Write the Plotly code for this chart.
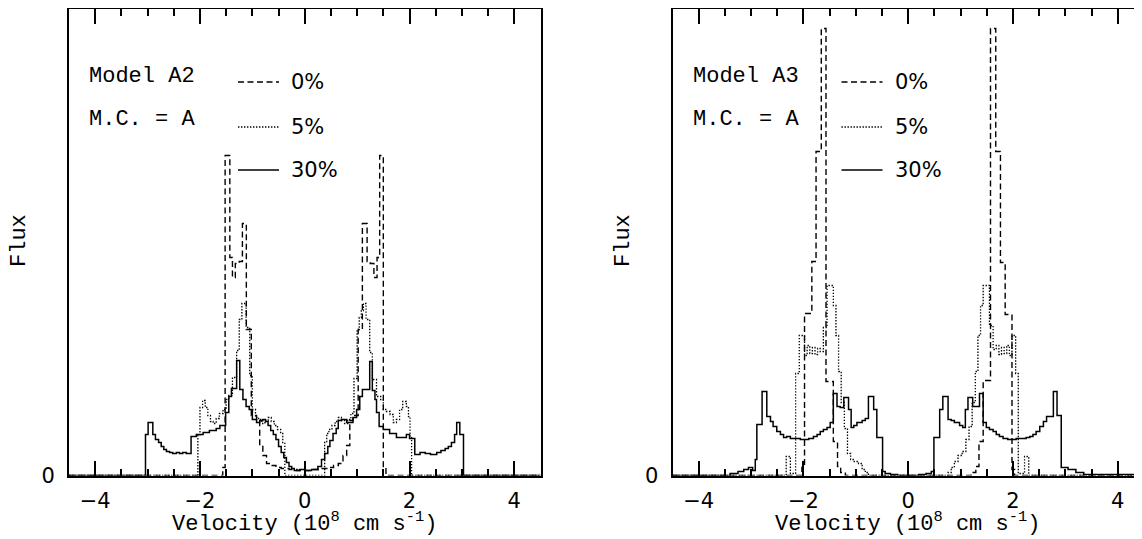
import plotly.graph_objects as go

# ---------------- data (velocity bin edges in 1e8 cm/s, flux in arbitrary units) -------------
# Model A2, 0% (dashed)
a2_0_edges = [-4.5, -1.565, -1.52, -1.43, -1.38, -1.325, -1.25, -1.19, -1.115, -1.02, -0.92, -0.86,
              -0.80, -0.73, -0.64, -0.55, -0.45, -0.30, -0.15, 0.0, 0.15, 0.30, 0.45, 0.55, 0.64,
              0.73, 0.80, 0.86, 0.92, 1.02, 1.10, 1.19, 1.25, 1.32, 1.38, 1.43, 1.50, 1.55, 4.5]
a2_0_flux = [0, 8, 320, 218, 198, 212, 214, 252, 146, 60, 55, 30, 20, 12, 10, 8, 7, 6, 5,
             5, 6, 7, 8, 10, 12, 20, 30, 55, 60, 146, 252, 214, 212, 198, 218, 320, 8, 0]

# Model A2, 5% (dotted)
a2_5_edges = [-4.5, -2.04, -2.00, -1.95, -1.90, -1.85, -1.80, -1.75, -1.69, -1.63, -1.56, -1.50,
              -1.45, -1.38, -1.30, -1.25, -1.20, -1.12, -1.05, -1.00, -0.94, -0.88, -0.82, -0.76,
              -0.70, -0.64, -0.58, -0.52, -0.46, -0.42, -0.38,
              0.38, 0.42, 0.46, 0.52, 0.58, 0.64, 0.70, 0.76, 0.82, 0.88, 0.94, 1.00, 1.04, 1.08,
              1.12, 1.17, 1.24, 1.29, 1.37, 1.45, 1.50, 1.56, 1.63, 1.69, 1.75, 1.81, 1.87, 1.94,
              1.98, 2.01, 2.04, 4.5]
a2_5_flux = [0, 40, 68, 75, 68, 60, 54, 52, 57, 62, 66, 76, 80, 98, 125, 156, 172, 148, 100,
             66, 58, 56, 52, 55, 58, 54, 50, 46, 42, 33,
             0,
             33, 42, 46, 50, 54, 58, 55, 52, 56, 62, 97, 146, 158, 165, 172, 156, 123, 96, 79,
             76, 66, 64, 61, 53, 56, 66, 74, 69, 59, 39, 0]

# Model A2, 30% (solid)
a2_30_edges = [-4.5, -3.04, -2.99, -2.90, -2.85, -2.79, -2.74, -2.69, -2.64, -2.58, -2.52, -2.45,
               -2.39, -2.33, -2.26, -2.17, -2.07, -1.94, -1.82, -1.69, -1.62, -1.51, -1.45, -1.40,
               -1.30, -1.24, -1.18, -1.12, -1.06, -1.00, -0.92, -0.86, -0.80, -0.75, -0.70, -0.65,
               -0.60, -0.55, -0.50, -0.45, -0.40, -0.35, -0.30, -0.25, -0.20, -0.10, 0.0,
               0.13, 0.25, 0.32, 0.38, 0.44, 0.48, 0.54, 0.60, 0.64, 0.70, 0.80, 0.92, 0.99, 1.05,
               1.10, 1.24, 1.29, 1.34, 1.37, 1.42, 1.50, 1.62, 1.75, 1.94, 2.00, 2.10, 2.20, 2.30,
               2.40, 2.52, 2.60, 2.68, 2.74, 2.80, 2.86, 2.90, 2.96, 3.03, 4.5]
a2_30_flux = [0, 41, 53, 41, 36, 33, 29, 26, 24, 23, 22, 23, 22, 23, 22, 39, 41, 43, 45, 47, 50,
              63, 79, 87, 115, 86, 76, 69, 66, 56, 53, 55, 56, 54, 50, 45, 41, 36, 29, 23, 18,
              13, 9, 7, 5, 6,
              5, 6, 9, 16, 22, 29, 35, 42, 47, 55, 56, 53, 58, 66, 79, 86, 114, 85, 76, 63, 49,
              46, 42, 38, 41, 37, 21, 23, 22, 21, 23, 25, 27, 29, 33, 41, 53, 41, 0]

# Model A3, 0% (dashed)
a3_0_edges = [-4.5, -2.03, -1.98, -1.84, -1.76, -1.66, -1.57, -1.43, -1.35, -1.29, -1.20,
              1.20, 1.29, 1.35, 1.43, 1.57, 1.67, 1.76, 1.85, 1.98, 2.03, 4.5]
a3_0_flux = [0, 8, 162, 214, 324, 447, 94, 34, 9, 3, 0,
             3, 9, 34, 95, 447, 324, 213, 161, 6, 0]

# Model A3, 5% (dotted)
a3_5_edges = [-4.5, -2.33, -2.25, -2.15, -2.08, -1.98, -1.93, -1.88, -1.83, -1.78, -1.73, -1.68,
              -1.62, -1.55, -1.43, -1.38, -1.33, -1.28, -1.22, -1.16, -1.10, -1.03, -0.95, -0.88,
              -0.82, -0.76,
              0.76, 0.82, 0.88, 0.95, 1.03, 1.10, 1.16, 1.22, 1.28, 1.33, 1.38, 1.43, 1.55, 1.62,
              1.68, 1.73, 1.78, 1.83, 1.88, 1.93, 1.98, 2.05, 2.10, 2.22, 2.30, 4.5]
a3_5_flux = [0, 19, 2, 102, 140, 120, 130, 122, 128, 121, 127, 124, 148, 190, 170, 140, 104, 73,
             47, 22, 16, 14, 12, 6, 3,
             0,
             3, 8, 14, 20, 24, 36, 49, 73, 104, 140, 170, 190, 150, 126, 130, 121, 128, 122,
             130, 120, 140, 102, 2, 19, 0]

# Model A3, 30% (solid)
a3_30_edges = [-4.5, -3.40, -3.25, -3.14, -3.05, -2.97, -2.92, -2.89, -2.79, -2.70, -2.63, -2.58,
               -2.51, -2.44, -2.38, -2.32, -2.25, -2.06, -1.90, -1.81, -1.74, -1.68, -1.62, -1.55,
               -1.49, -1.43, -1.36, -1.30, -1.23, -1.14, -1.09, -1.04, -0.98, -0.88, -0.82, -0.76,
               -0.66, -0.60, -0.49, -0.44, -0.34, -0.20,
               0.20, 0.34, 0.44, 0.49, 0.60, 0.66, 0.76, 0.82, 0.88, 0.98, 1.04, 1.09, 1.14, 1.23,
               1.30, 1.36, 1.43, 1.49, 1.55, 1.62, 1.68, 1.74, 1.81, 1.90, 2.06, 2.25, 2.32, 2.38,
               2.44, 2.51, 2.58, 2.64, 2.77, 2.84, 2.92, 3.05, 3.20, 3.35, 4.5]
a3_30_flux = [0, 2, 4, 6, 8, 5, 16, 51, 84, 59, 54, 49, 44, 41, 38, 39, 37, 36, 37, 39, 41, 44,
              46, 48, 53, 82, 69, 68, 78, 66, 48, 50, 53, 55, 57, 79, 66, 38, 4, 2, 1,
              0,
              1, 2, 4, 38, 66, 79, 56, 55, 53, 50, 48, 66, 78, 69, 69, 82, 53, 48, 46, 44, 41, 39,
              37, 36, 37, 38, 39, 41, 44, 49, 54, 59, 84, 60, 8, 6, 3, 1, 0]

series_labels = ["0%", "5%", "30%"]
tick_vals = [-4, -2, 0, 2, 4]

# ---------------- styling ----------------
# The page body has an 8px margin, so screen positions are converted to the figure's
# own origin.  The figure is a little wider than the window so that the right panel's
# frame edge falls just outside the visible area, as in the reference.
OFF = 8
W, H = 1138, 539 - OFF
ROMAN = "Liberation Mono"
SANS = "DejaVu Sans"
dash_styles = {"0%": "6px,3.5px", "5%": "1.4px,1.6px", "30%": "solid"}
line_widths = {"0%": 1.4, "5%": 1.3, "30%": 1.5}


def steps(edges, flux):
    return list(edges), list(flux) + [flux[-1]]


def px(x):
    return (x - OFF) / W


def py(y):
    return 1 - (y - OFF) / H


fig = go.Figure()
panels = [
    ("x", "y", [(a2_0_edges, a2_0_flux), (a2_5_edges, a2_5_flux), (a2_30_edges, a2_30_flux)]),
    ("x2", "y2", [(a3_0_edges, a3_0_flux), (a3_5_edges, a3_5_flux), (a3_30_edges, a3_30_flux)]),
]
for xa, ya, sers in panels:
    for lab, (e, f) in zip(series_labels, sers):
        xs, ys = steps(e, f)
        fig.add_trace(go.Scatter(
            x=xs, y=ys, mode="lines", line_shape="hv", xaxis=xa, yaxis=ya,
            line=dict(color="black", width=line_widths[lab], dash=dash_styles[lab]),
            showlegend=False, hoverinfo="skip"))

ydom = [py(475.5), 1 - 1 / H]
yrange_top = 475.5 - (OFF + 1)
xdom1 = [px(69), px(540.5)]
xdom2 = [px(672.5), px(1144)]

xcommon = dict(range=[-4.5, 4.5], showline=True, linewidth=2, linecolor="black", mirror="allticks",
               ticks="inside", ticklen=15, tickwidth=1.5, tickcolor="black",
               tickvals=tick_vals, showgrid=False, zeroline=False, automargin=False,
               tickfont=dict(family=SANS, size=21, color="black"), ticklabelstandoff=5,
               minor=dict(dtick=0.5, tick0=0, ticks="inside", ticklen=7, tickwidth=1.5,
                          tickcolor="black", showgrid=False))
ycommon = dict(range=[0, yrange_top], showline=True, linewidth=2, linecolor="black", mirror=True,
               ticks="", tickvals=[0], ticktext=["0"], showgrid=False, zeroline=False,
               automargin=False, tickfont=dict(family=SANS, size=21, color="black"),
               ticklabelstandoff=8, domain=ydom)

fig.update_layout(
    width=W, height=H, margin=dict(l=0, r=0, t=0, b=0),
    paper_bgcolor="white", plot_bgcolor="white", showlegend=False,
    xaxis=dict(domain=xdom1, anchor="y", **xcommon),
    yaxis=dict(anchor="x", **ycommon),
    xaxis2=dict(domain=xdom2, anchor="y2", **xcommon),
    yaxis2=dict(anchor="x2", **ycommon),
)

# ---------------- text and legend keys ----------------
panel_text = [
    dict(x0=69, model="Model A2", flux_x=19, vel_cx=304),
    dict(x0=672.5, model="Model A3", flux_x=623, vel_cx=907),
]
legend_rows = [("0%", 82), ("5%", 127), ("30%", 170)]
for p in panel_text:
    ox = p["x0"]
    fig.add_annotation(x=px(ox + 18), y=py(76), xref="paper", yref="paper", text=p["model"],
                       showarrow=False, xanchor="left", yanchor="middle",
                       font=dict(family=ROMAN, size=22, color="black"))
    fig.add_annotation(x=px(ox + 18), y=py(120), xref="paper", yref="paper", text="M.C. = A",
                       showarrow=False, xanchor="left", yanchor="middle",
                       font=dict(family=ROMAN, size=22, color="black"))
    for lab, yy in legend_rows:
        fig.add_shape(type="line", xref="paper", yref="paper",
                      x0=px(ox + 169), x1=px(ox + 210), y0=py(yy), y1=py(yy),
                      line=dict(color="black", width=line_widths[lab], dash=dash_styles[lab]))
        fig.add_annotation(x=px(ox + 220), y=py(yy), xref="paper", yref="paper", text=lab,
                           showarrow=False, xanchor="left", yanchor="middle",
                           font=dict(family=SANS, size=21, color="black"))
    fig.add_annotation(x=px(p["flux_x"]), y=py(241), xref="paper", yref="paper", text="Flux",
                       textangle=-90, showarrow=False, xanchor="center", yanchor="middle",
                       font=dict(family=ROMAN, size=22, color="black"))
    fig.add_annotation(x=px(p["vel_cx"]), y=py(522), xref="paper", yref="paper",
                       text="Velocity (10<sup>8</sup> cm s<sup>-1</sup>)",
                       showarrow=False, xanchor="center", yanchor="middle",
                       font=dict(family=ROMAN, size=22, color="black"))

fig.write_html("out.html")
